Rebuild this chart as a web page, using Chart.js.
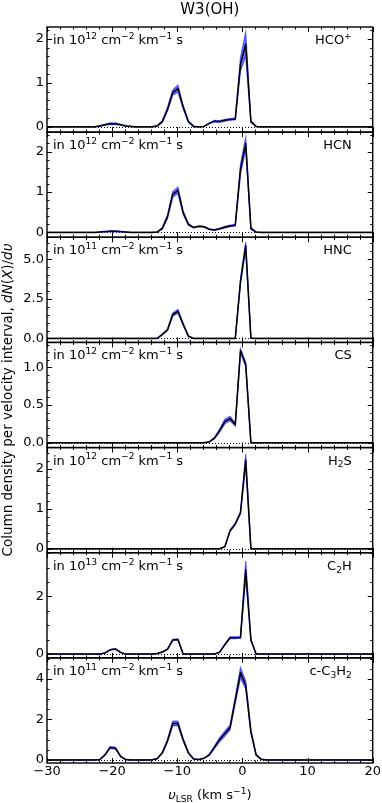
<!DOCTYPE html>
<html>
<head>
<meta charset="utf-8">
<title>W3(OH)</title>
<script src="https://cdn.jsdelivr.net/npm/chart.js@4.4.1/dist/chart.umd.min.js"></script>
<style>
  html, body { margin: 0; padding: 0; background: #fff; }
  #wrap { position: relative; width: 382px; height: 803px; }
</style>
</head>
<body>
<div id="wrap"><canvas id="chart" width="382" height="803"></canvas></div>
<script>
// velocity grid (km/s)
var vel = [
  -30, -23.5, -22.7, -21.9, -21.1, -20.3, -19.5, -18.7, -17.9, -17.1,
  -16.3, -15.5, -14.7, -13.9, -13.1, -12.3, -11.5, -10.7, -9.9, -9.1,
  -8.3, -7.5, -6.7, -5.9, -5.1, -4.3, -3.5, -2.7, -1.9, -1.1,
  -0.3, 0.5, 1.3, 2.1, 2.9, 3.7, 4.5, 20
];

// dN/dv per species (in the unit of its panel) and the half width of the blue band
var hcoP = [
  0, 0, 0, 0.02, 0.05, 0.07, 0.07, 0.05, 0.02, 0.01,
  0, 0, 0, 0, 0.02, 0.12, 0.40, 0.78, 0.87, 0.45,
  0.12, 0.01, 0, 0.01, 0.08, 0.13, 0.12, 0.15, 0.17, 0.18,
  1.42, 1.88, 0.12, 0.01, 0, 0, 0, 0
];
var hcoPErr = [
  0, 0, 0, 0.01, 0.01, 0.02, 0.02, 0.01, 0.01, 0,
  0, 0, 0, 0, 0.01, 0.02, 0.04, 0.06, 0.08, 0.04,
  0.02, 0.01, 0, 0, 0.01, 0.02, 0.02, 0.02, 0.02, 0.02,
  0.15, 0.27, 0.02, 0, 0, 0, 0, 0
];
var hcn = [
  0, 0, 0, 0.01, 0.02, 0.03, 0.03, 0.02, 0.01, 0,
  0, 0, 0, 0, 0.01, 0.10, 0.39, 0.94, 1.04, 0.49,
  0.20, 0.12, 0.15, 0.14, 0.08, 0.06, 0.09, 0.13, 0.16, 0.18,
  1.56, 2.20, 0.10, 0.01, 0, 0, 0, 0
];
var hcnErr = [
  0, 0, 0, 0, 0.01, 0.01, 0.01, 0.01, 0, 0,
  0, 0, 0, 0, 0, 0.02, 0.04, 0.07, 0.08, 0.04,
  0.02, 0.01, 0.01, 0.01, 0.01, 0.01, 0.01, 0.02, 0.02, 0.02,
  0.12, 0.15, 0.03, 0, 0, 0, 0, 0
];
var hnc = [
  0, 0, 0, 0, 0, 0, 0, 0, 0, 0,
  0, 0, 0, 0, 0, 0.25, 0.55, 1.50, 1.72, 0.90,
  0.15, 0, 0, 0, 0, 0, 0, 0, 0, 0,
  3.6, 5.85, 0.02, 0, 0, 0, 0, 0
];
var hncErr = [
  0, 0, 0, 0, 0, 0, 0, 0, 0, 0,
  0, 0, 0, 0, 0, 0.03, 0.05, 0.10, 0.12, 0.06,
  0.02, 0, 0, 0, 0, 0, 0, 0, 0, 0,
  0.15, 0.25, 0.02, 0, 0, 0, 0, 0
];
var cs = [
  0, 0, 0, 0, 0, 0, 0, 0, 0, 0,
  0, 0, 0, 0, 0, 0, 0, 0, 0, 0,
  0, 0, 0, 0, 0.01, 0.06, 0.16, 0.28, 0.32, 0.24,
  1.22, 1.04, 0, 0, 0, 0, 0, 0
];
var csErr = [
  0, 0, 0, 0, 0, 0, 0, 0, 0, 0,
  0, 0, 0, 0, 0, 0, 0, 0, 0, 0,
  0, 0, 0, 0, 0, 0.01, 0.02, 0.03, 0.03, 0.02,
  0.03, 0.03, 0, 0, 0, 0, 0, 0
];
var h2s = [
  0, 0, 0, 0, 0, 0, 0, 0, 0, 0,
  0, 0, 0, 0, 0, 0, 0, 0, 0, 0,
  0, 0, 0, 0, 0, 0, 0, 0.05, 0.45, 0.62,
  0.90, 2.22, 0, 0, 0, 0, 0, 0
];
var h2sErr = [
  0, 0, 0, 0, 0, 0, 0, 0, 0, 0,
  0, 0, 0, 0, 0, 0, 0, 0, 0, 0,
  0, 0, 0, 0, 0, 0, 0, 0.01, 0.02, 0.02,
  0.03, 0.15, 0, 0, 0, 0, 0, 0
];
var c2h = [
  0, 0, 0, 0, 0.04, 0.15, 0.18, 0.06, 0, 0,
  0, 0, 0, 0, 0.02, 0.07, 0.17, 0.49, 0.51, 0,
  0, 0, 0, 0, 0, 0, 0.07, 0.33, 0.57, 0.57,
  0.58, 2.93, 0.49, 0, 0, 0, 0, 0
];
var c2hErr = [
  0, 0, 0, 0, 0.01, 0.01, 0.01, 0.01, 0, 0,
  0, 0, 0, 0, 0, 0.01, 0.01, 0.02, 0.02, 0,
  0, 0, 0, 0, 0, 0, 0.01, 0.02, 0.03, 0.03,
  0.03, 0.30, 0.03, 0, 0, 0, 0, 0
];
var c3h2 = [
  0, 0, 0, 0.02, 0.25, 0.62, 0.58, 0.18, 0.02, 0,
  0, 0, 0, 0.01, 0.06, 0.35, 0.95, 1.80, 1.80, 1.00,
  0.35, 0.05, 0.02, 0.08, 0.25, 0.62, 1.00, 1.30, 1.60, 2.95,
  4.30, 3.70, 1.40, 0.25, 0.03, 0, 0, 0
];
var c3h2Err = [
  0, 0, 0, 0, 0.02, 0.05, 0.05, 0.02, 0, 0,
  0, 0, 0, 0, 0.01, 0.03, 0.06, 0.12, 0.12, 0.06,
  0.03, 0.01, 0, 0.01, 0.03, 0.06, 0.10, 0.12, 0.12, 0.15,
  0.25, 0.20, 0.10, 0.03, 0, 0, 0, 0
];

// panels, top to bottom
var series = [hcoP, hcn, hnc, cs, h2s, c2h, c3h2];
var errors = [hcoPErr, hcnErr, hncErr, csErr, h2sErr, c2hErr, c3h2Err];
var species = [
  [['HCO', ''], ['+', 'sup']],
  [['HCN', '']],
  [['HNC', '']],
  [['CS', '']],
  [['H', ''], ['2', 'sub'], ['S', '']],
  [['C', ''], ['2', 'sub'], ['H', '']],
  [['c-C', ''], ['3', 'sub'], ['H', ''], ['2', 'sub']]
];
var unitExp = ['12', '12', '11', '12', '12', '13', '11'];

// y axis limits and ticks per panel
var yMin = [-0.12, -0.12, -0.25, -0.065, -0.1, -0.13, -0.15];
var yMax = [2.27, 2.48, 6.39, 1.33, 2.53, 3.52, 5.04];
var yStep = [1, 1, 2.5, 0.5, 1, 2, 2];
var yMinor = [0.2, 0.2, 0.5, 0.1, 0.2, 0.5, 0.5];
var yDecimals = [0, 0, 1, 1, 0, 0, 0];

var FONT = '"DejaVu Sans", sans-serif';
var BAND = 'rgba(45, 45, 255, 0.7)';

function font(size, italic) {
  return (italic ? 'italic ' : '') + size + 'px ' + FONT;
}

function fmt(v, dec) {
  return v.toFixed(dec).replace('-', '\u2212');
}

// sign: 0 for the curve itself, +1 / -1 for the edges of the band
function points(vals, err, sign) {
  return vel.map(function (v, k) {
    return {x: v, y: vals[k] + sign * err[k]};
  });
}

// text with super/subscripts and italics: parts = [[text, 'sup'|'sub'|'i'|'']]
function richText(ctx, parts, x, y, align, size) {
  var widths = [], total = 0;
  function sz(p) { return (p[1] === 'sup' || p[1] === 'sub') ? size * 0.7 : size; }
  parts.forEach(function (p) {
    ctx.font = font(sz(p), p[1] === 'i');
    var w = ctx.measureText(p[0]).width;
    widths.push(w);
    total += w;
  });
  var cx = align === 'right' ? x - total : (align === 'center' ? x - total / 2 : x);
  ctx.textAlign = 'left';
  parts.forEach(function (p, k) {
    var dy = p[1] === 'sup' ? -size * 0.4 : (p[1] === 'sub' ? size * 0.22 : 0);
    ctx.font = font(sz(p), p[1] === 'i');
    ctx.fillText(p[0], cx, y + dy);
    cx += widths[k];
  });
}

var datasets = [];
var scales = {
  x: {
    type: 'linear', position: 'bottom', min: -30, max: 20,
    grid: {display: false, drawTicks: false},
    border: {display: false},
    ticks: {
      stepSize: 10, padding: 1, color: '#000', maxRotation: 0,
      font: {family: FONT, size: 13},
      callback: function (v) { return fmt(v, 0); }
    },
    afterFit: function (s) { s.height = 40; }
  }
};

series.forEach(function (vals, i) {
  var axis = 'y' + i;
  datasets.push({
    data: points(vals, errors[i], 0), yAxisID: axis, order: 0,
    borderColor: '#000', borderWidth: 1.5, pointRadius: 0,
    borderJoinStyle: 'round', fill: false
  });
  datasets.push({
    data: points(vals, errors[i], 1), yAxisID: axis, order: 2,
    borderColor: BAND, borderWidth: 1.2, pointRadius: 0, fill: false
  });
  datasets.push({
    data: points(vals, errors[i], -1), yAxisID: axis, order: 2,
    borderColor: BAND, borderWidth: 1.2, pointRadius: 0,
    backgroundColor: BAND, fill: '-1'
  });
  scales[axis] = {
    type: 'linear', position: 'left', stack: 'panels', stackWeight: 1,
    min: yMin[i], max: yMax[i],
    grid: {display: false, drawTicks: false},
    border: {display: false},
    ticks: {
      stepSize: yStep[i], includeBounds: false, padding: 3, color: '#000',
      font: {family: FONT, size: 13},
      callback: function (v) { return fmt(v, yDecimals[i]); }
    },
    afterFit: function (s) { s.width = 47; }
  };
});

var panelPlugin = {
  id: 'panels',
  // stack the y axes from top to bottom in the order of the series
  afterLayout: function (chart) {
    var area = chart.chartArea;
    var h = (area.bottom - area.top) / series.length;
    series.forEach(function (vals, i) {
      var s = chart.scales['y' + i];
      s.top = area.top + i * h;
      s.bottom = s.top + h;
      s.height = h;
      s.configure();
    });
  },
  beforeDatasetsDraw: function (chart) {
    var ctx = chart.ctx, xs = chart.scales.x;
    ctx.save();
    ctx.strokeStyle = '#000';
    ctx.lineWidth = 1;
    ctx.setLineDash([1, 2]);
    series.forEach(function (vals, i) {
      var y0 = Math.round(chart.scales['y' + i].getPixelForValue(0)) + 0.5;
      ctx.beginPath();
      ctx.moveTo(xs.left, y0);
      ctx.lineTo(xs.right, y0);
      ctx.stroke();
    });
    ctx.restore();
  },
  afterDraw: function (chart) {
    var ctx = chart.ctx, xs = chart.scales.x;
    ctx.save();
    ctx.strokeStyle = '#000';
    ctx.fillStyle = '#000';

    series.forEach(function (vals, i) {
      var s = chart.scales['y' + i];
      var k, px;
      // inward ticks on all four sides
      ctx.lineWidth = 1;
      ctx.beginPath();
      for (k = -15; k <= 10; k++) {
        px = Math.round(xs.getPixelForValue(k * 2)) + 0.5;
        var len = (k % 5 === 0) ? 5 : 2.5;
        ctx.moveTo(px, s.top); ctx.lineTo(px, s.top + len);
        ctx.moveTo(px, s.bottom); ctx.lineTo(px, s.bottom - len);
      }
      var m = yMinor[i];
      for (k = Math.ceil(yMin[i] / m - 1e-9); k * m <= yMax[i] + 1e-9; k++) {
        var v = k * m;
        var major = Math.abs(v / yStep[i] - Math.round(v / yStep[i])) < 1e-6;
        var l2 = major ? 5 : 2.5;
        px = Math.round(s.getPixelForValue(v)) + 0.5;
        ctx.moveTo(xs.left, px); ctx.lineTo(xs.left + l2, px);
        ctx.moveTo(xs.right, px); ctx.lineTo(xs.right - l2, px);
      }
      ctx.stroke();
      // frame
      ctx.lineWidth = 1.4;
      ctx.strokeRect(xs.left, s.top, xs.right - xs.left, s.bottom - s.top);

      // unit and species labels
      ctx.textBaseline = 'alphabetic';
      richText(ctx, [['in 10', ''], [unitExp[i], 'sup'], [' cm', ''], ['\u22122', 'sup'],
        [' km', ''], ['\u22121', 'sup'], [' s', '']], xs.left + 6, s.top + 17, 'left', 13);
      richText(ctx, species[i], xs.right - 21, s.top + 17, 'right', 13);
    });

    // title
    ctx.font = font(15);
    ctx.textAlign = 'center';
    ctx.fillText('W3(OH)', (xs.left + xs.right) / 2, 14);

    // x axis title
    richText(ctx, [['\u03c5', 'i'], ['LSR', 'sub'], [' (km s', ''], ['\u22121', 'sup'], [')', '']],
      (xs.left + xs.right) / 2, 799, 'center', 13);

    // y axis title
    ctx.translate(12, 400);
    ctx.rotate(-Math.PI / 2);
    richText(ctx, [['Column density per velocity interval, ', ''], ['dN', 'i'], ['(', ''],
      ['X', 'i'], [')/', ''], ['d\u03c5', 'i']], 0, 0, 'center', 13.5);
    ctx.restore();
  }
};

var chart = new Chart(document.getElementById('chart'), {
  type: 'line',
  data: {datasets: datasets},
  options: {
    responsive: false,
    animation: false,
    events: [],
    layout: {padding: {top: 27, right: 9, left: 0, bottom: 0}, autoPadding: false},
    plugins: {legend: {display: false}, tooltip: {enabled: false}},
    scales: scales
  },
  plugins: [panelPlugin]
});
</script>
</body>
</html>
